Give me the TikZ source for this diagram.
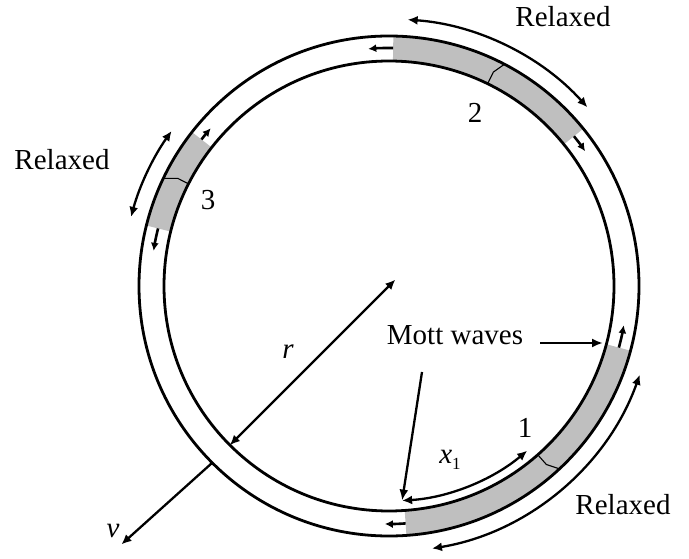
\documentclass[tikz,border=0pt]{standalone}
\usepackage{fontspec}
\setmainfont{Liberation Serif}
\usetikzlibrary{arrows.meta}
\begin{document}
\begin{tikzpicture}[x=1pt,y=1pt,
  ring/.style={line width=2.8pt},
  band/.style={fill=gray!50},
  kink/.style={line width=1.1pt},
  dbl/.style={line width=2.3pt,{Latex[length=10pt,width=9pt]}-{Latex[length=10pt,width=9pt]}},
  sarr/.style={line width=2.6pt,-{Latex[length=8pt,width=8pt]}},
  marr/.style={line width=2.8pt,-{Latex[length=11pt,width=9pt]}},
  lbl/.style={font=\fontsize{29}{34}\selectfont,inner sep=0pt}]
\useasboundingbox (0,0) rectangle (689,558);
\coordinate (C) at (389,272);
\begin{scope}[shift={(C)}]
  % gray segments
  \fill[band] (39:225) arc[start angle=39,end angle=89,radius=225] -- (89:250) arc[start angle=89,end angle=39,radius=250] -- cycle;
  \fill[band] (142:225) arc[start angle=142,end angle=166,radius=225] -- (166:250) arc[start angle=166,end angle=142,radius=250] -- cycle;
  \fill[band] (-86:225) arc[start angle=-86,end angle=-15,radius=225] -- (-15:250) arc[start angle=-15,end angle=-86,radius=250] -- cycle;
  % rings
  \draw[ring] (0,0) circle[radius=250];
  \draw[ring] (0,0) circle[radius=225];
  % kinks
  \draw[kink] (64:225) -- (64:238) -- (62.5:250);
  \draw[kink] (153:225) -- (153:237) -- (154.5:250);
  \draw[kink] (-48.6:225) -- (-48.6:238) -- (-47:250);
  % small arrows in band
  \draw[sarr] (89:238) arc[start angle=89,end angle=95,radius=238];
  \draw[sarr] (39:238) arc[start angle=39,end angle=34.5,radius=238];
  \draw[sarr] (142:238) arc[start angle=142,end angle=138.5,radius=238];
  \draw[sarr] (166:238) arc[start angle=166,end angle=171.5,radius=238];
  \draw[sarr] (-86:238) arc[start angle=-86,end angle=-91,radius=238];
  \draw[sarr] (-15:238) arc[start angle=-15,end angle=-9.5,radius=238];
  % outer double arrows
  \draw[dbl] (42:267) arc[start angle=42,end angle=86,radius=267];
  \draw[dbl] (144.5:267) arc[start angle=144.5,end angle=165,radius=267];
  \draw[dbl] (-80.7:266) arc[start angle=-80.7,end angle=-19.5,radius=266];
  % x1 arc
  \coordinate (x1a) at (-86.5:215);
  \draw[dbl] (x1a) arc[start angle=-86.5,end angle=-50,radius=215];
  % radius and velocity
  \coordinate (rc) at (45:9);
  \coordinate (ri) at (225:225);
  \coordinate (vo) at (225:250);
  \coordinate (vt) at (224:372);
  \draw[dbl] (rc) -- (ri);
  \draw[line width=2.3pt,-{Latex[length=10pt,width=9pt]}] (vo) -- (vt);
\end{scope}
% labels
\node[lbl] (rel2) at (563,541) {Relaxed};
\node[lbl] (rel3) at (62,398) {Relaxed};
\node[lbl] (rel1) at (623,53) {Relaxed};
\node[lbl] (n2) at (475,445) {2};
\node[lbl] (n3) at (208,358) {3};
\node[lbl] (n1) at (525,130) {1};
\node[lbl] (mott) at (455,223) {Mott waves};
\node[lbl] (xl) at (450,98) {\textit{x}\raisebox{-6pt}{\fontsize{17}{20}\selectfont 1}};
\node[lbl] (rl) at (288,206) {\textit{r}};
\node[lbl] (vl) at (113,27) {\textit{v}};
% Mott wave pointers
\coordinate (m1s) at (540,215);
\coordinate (m1e) at (603,215);
\coordinate (m2s) at (422,186);
\draw[marr] (m1s) -- (m1e);
\draw[line width=2.3pt,-{Latex[length=11pt,width=9pt]}] (m2s) -- (x1a);
\end{tikzpicture}
\end{document}
